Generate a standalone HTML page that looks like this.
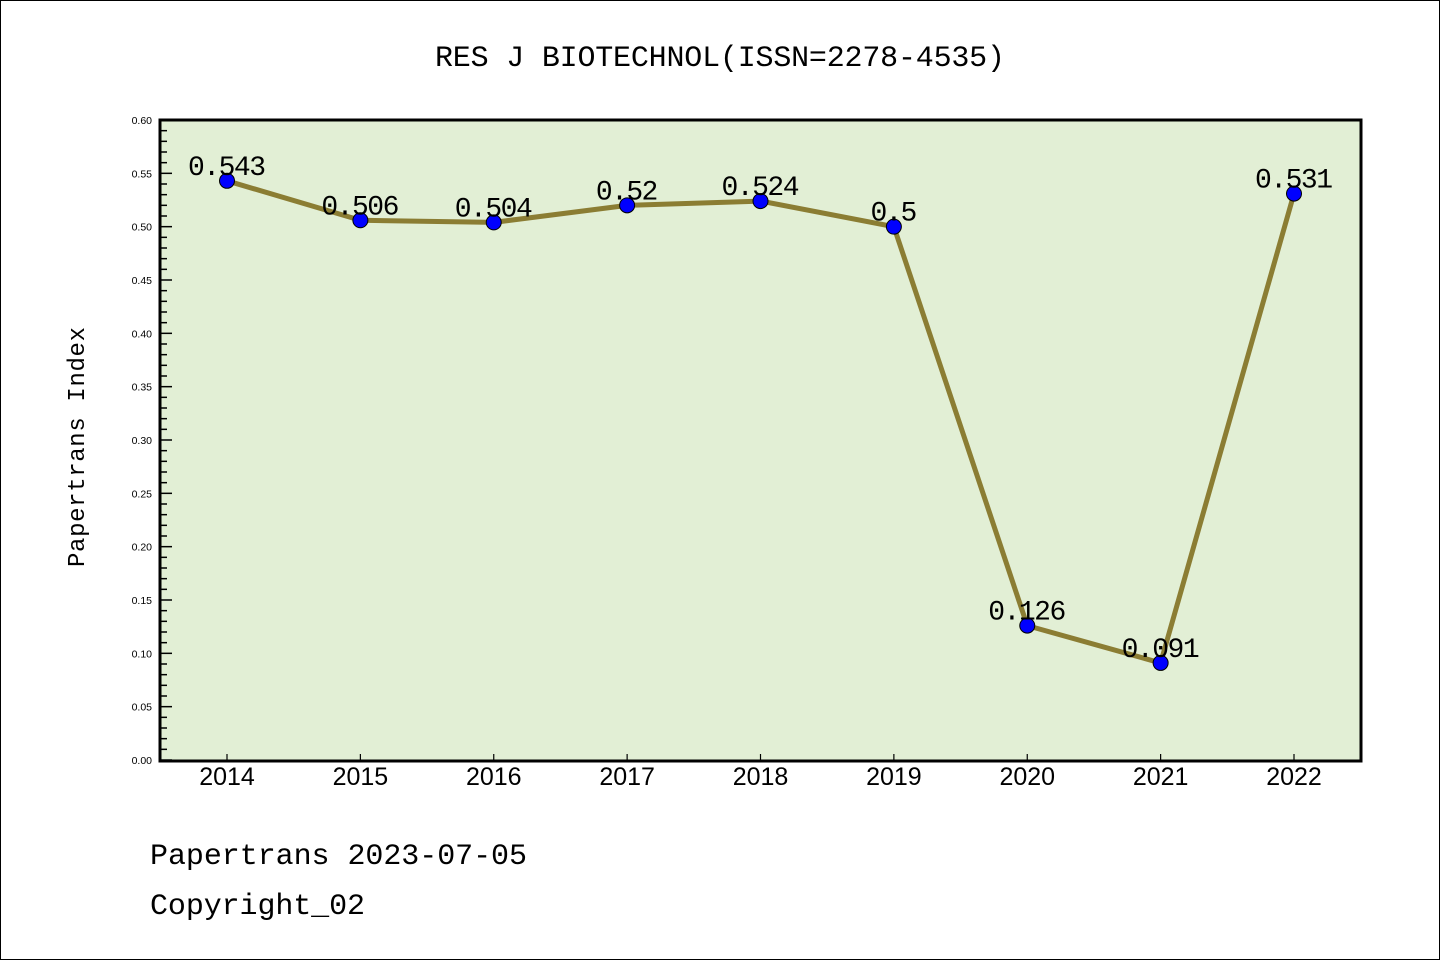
<!DOCTYPE html>
<html><head><meta charset="utf-8"><style>
html,body{margin:0;padding:0;background:#fff}
svg{display:block}
text{font-family:"Liberation Sans","WenQuanYi Zen Hei",sans-serif}
</style></head><body>
<svg id="chart" width="1440" height="960" xmlns="http://www.w3.org/2000/svg">
<rect x="0.5" y="0.5" width="1439" height="959" fill="#fff" stroke="#000"/>
<text x="720" y="66" text-anchor="middle" font-size="30" textLength="570" style="font-family:'Liberation Mono',monospace">RES J BIOTECHNOL(ISSN=2278-4535)</text>
<rect x="160" y="120" width="1201" height="641" fill="#e2efd5"/>
<g id="axes"></g>
<g id="series"></g>
<rect x="160" y="120" width="1201" height="641" fill="none" stroke="#000" stroke-width="3"/>
<text transform="translate(84,447) rotate(-90)" text-anchor="middle" font-size="24" textLength="240" style="font-family:'Liberation Mono',monospace">Papertrans Index</text>
<text x="150" y="864" font-size="30" textLength="377" style="font-family:'Liberation Mono',monospace">Papertrans 2023-07-05</text>
<text x="150" y="914" font-size="30" textLength="215" style="font-family:'Liberation Mono',monospace">Copyright_02</text>
</svg>
<script>
const years = ["2014","2015","2016","2017","2018","2019","2020","2021","2022"];
const values = [0.543,0.506,0.504,0.52,0.524,0.5,0.126,0.091,0.531];
const valueLabels = ["0.543","0.506","0.504","0.52","0.524","0.5","0.126","0.091","0.531"];
const yTicks = [0,0.05,0.1,0.15,0.2,0.25,0.3,0.35,0.4,0.45,0.5,0.55,0.6];

const NS="http://www.w3.org/2000/svg";
const X0=227, DX=(1294-227)/8, Y0=760, Y1=120, YMAX=0.6;
function xs(i){return X0+i*DX;}
function ys(v){return Y0-(v/YMAX)*(Y0-Y1);}
function mk(tag,attrs,parent){const e=document.createElementNS(NS,tag);for(const k in attrs)e.setAttribute(k,attrs[k]);parent.appendChild(e);return e;}
const axes=document.getElementById('axes'), ser=document.getElementById('series');

for(let k=0;k<=60;k++){
  const v=k*0.01, y=ys(v), major=(k%5===0);
  const t=mk('line',{x1:160,x2:160+(major?12:7),y1:y,y2:y,stroke:'#000','stroke-width':1.5},axes);
  
  
}
yTicks.forEach(v=>{
  const t=mk('text',{x:152,y:ys(v)+4,'text-anchor':'end','font-size':10.5},axes);
  t.textContent=v.toFixed(2);
  
  
});
years.forEach((yr,i)=>{
  const l=mk('line',{x1:xs(i),x2:xs(i),y1:760,y2:754,stroke:'#000','stroke-width':1.2},axes);
  
  
  const t=mk('text',{x:xs(i),y:785,'text-anchor':'middle','font-size':25},axes);
  t.textContent=yr;
  
  
});
const line=mk('polyline',{points:values.map((v,i)=>xs(i)+','+ys(v)).join(' '),fill:'none',stroke:'#8b7d33','stroke-width':5,'stroke-linejoin':'round'},ser);


values.forEach((v,i)=>{
  const c=mk('circle',{cx:xs(i),cy:ys(v),r:7.5,fill:'#0000ff',stroke:'#000','stroke-width':1},ser);
  
  
  const t=mk('text',{x:xs(i),y:ys(v)-6,'text-anchor':'middle','font-size':28,'textLength':valueLabels[i].length*15.6,style:"font-family:'Liberation Mono',monospace"},ser);
  t.textContent=valueLabels[i];
  
  
});
</script>
</body></html>
